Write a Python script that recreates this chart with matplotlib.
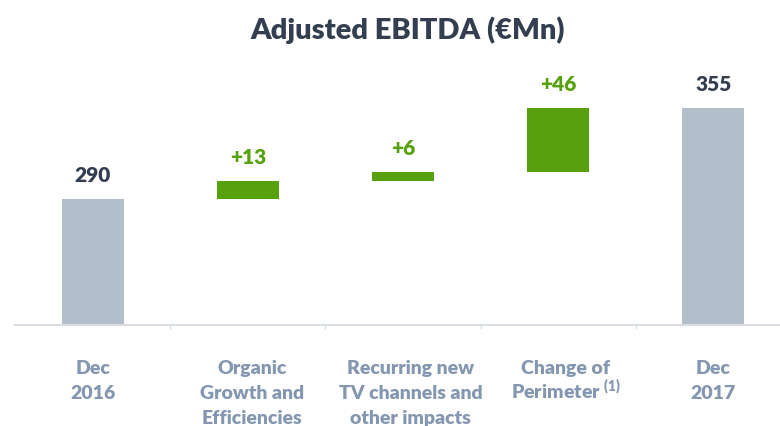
import matplotlib.pyplot as plt
import matplotlib.transforms as mtransforms
import numpy as np

# data
categories = [['Dec', '2016'],
              ['Organic', 'Growth and', 'Efficiencies'],
              ['Recurring new', 'TV channels and', 'other impacts'],
              ['Change of', 'Perimeter $^{\\mathregular{(1)}}$'],
              ['Dec', '2017']]
values = [290, 13, 6, 46, 355]
kinds = ['total', 'delta', 'delta', 'delta', 'total']
value_labels = ['290', '+13', '+6', '+46', '355']

GREY = '#b3becb'
GREEN = '#58a10e'
DARK = '#333f50'
SLATE = '#8497b0'


def main():
    plt.rcParams['font.family'] = ['Lato', 'DejaVu Sans']
    fig = plt.figure(figsize=(7.8, 4.26), dpi=100)
    ax = fig.add_axes([15 / 780, 1 - 325 / 426, 765 / 780, 325 / 426])

    # waterfall: totals start from the axis, deltas float on the running sum
    x = np.arange(len(values))
    bottoms = []
    running = 0
    for v, k in zip(values, kinds):
        if k == 'total':
            bottoms.append(0)
            running = v
        else:
            bottoms.append(running)
            running += v
    colors = [GREY if k == 'total' else GREEN for k in kinds]
    ax.bar(x, values, bottom=bottoms, width=0.4, color=colors)

    for xi, b, h, lab, c in zip(x, bottoms, values, value_labels, colors):
        ax.annotate(lab, (xi, b + h), xytext=(0, 10), textcoords='offset points',
                    ha='center', va='bottom', fontsize=15, fontweight='heavy',
                    color=DARK if c == GREY else GREEN)

    ax.set_ylim(200, 432)
    ax.set_xlim(-0.5, 4.43)
    for s in ['top', 'right', 'left']:
        ax.spines[s].set_visible(False)
    ax.spines['bottom'].set_color('#d9dee5')
    ax.spines['bottom'].set_linewidth(1.5)
    ax.set_yticks([])
    ax.set_xticks(np.arange(0.5, 4.5, 1))
    ax.set_xticklabels([])
    ax.tick_params(axis='x', length=3, color='#d9dee5', width=1)

    # category labels, one line at a time so the rows line up
    shifts = [0, 0.03, 0.05, 0.05, 0]
    baselines = [374, 399, 424]
    trans = mtransforms.blended_transform_factory(ax.transData, fig.transFigure)
    for xi, lines, dx in zip(x, categories, shifts):
        for line, yb in zip(lines, baselines):
            ax.text(xi + dx, 1 - yb / 426, line, transform=trans,
                    ha='center', va='baseline', fontsize=14, fontweight='heavy',
                    color=SLATE)

    fig.text(0.523, 0.93, 'Adjusted EBITDA (€Mn)', ha='center', va='center',
             fontsize=21, fontweight='heavy', color=DARK)

    plt.savefig('out.png', dpi=100)


if __name__ == '__main__':
    main()
